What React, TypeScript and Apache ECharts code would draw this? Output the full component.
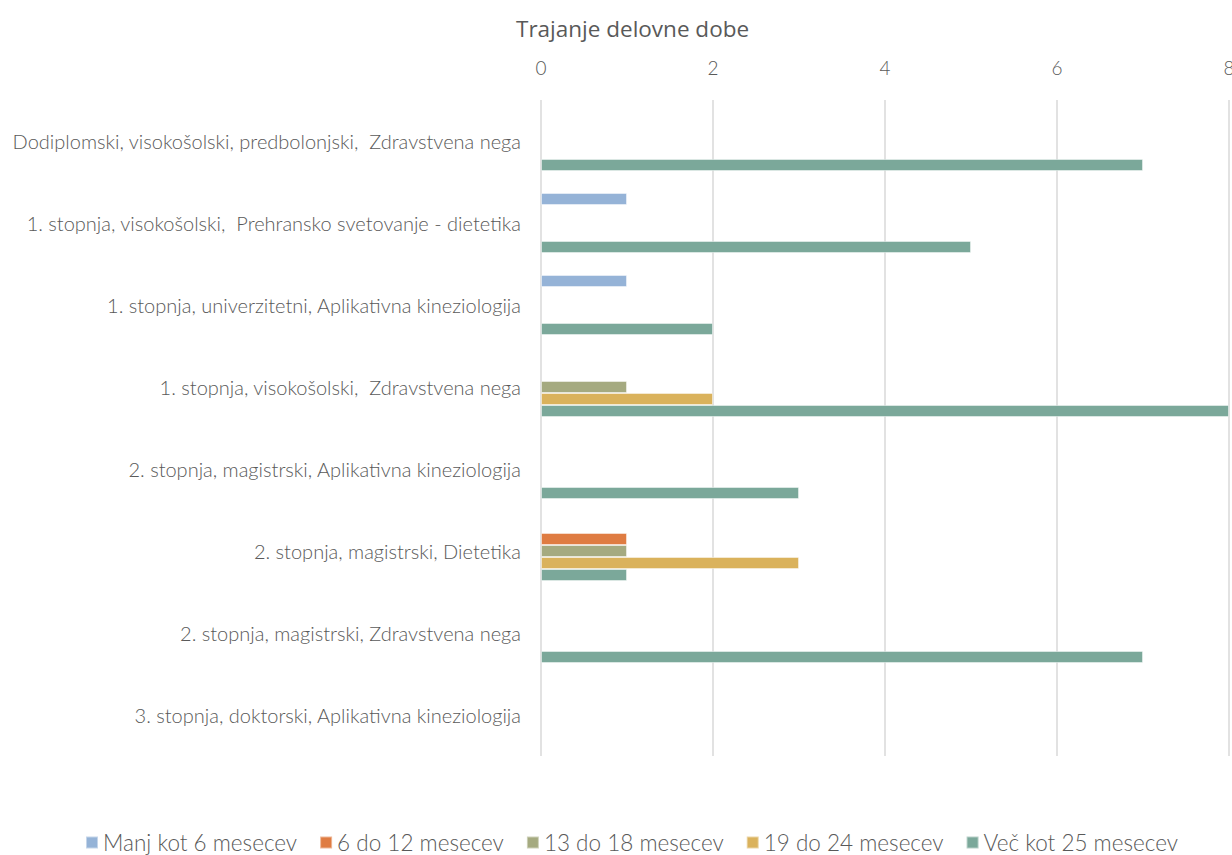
import React, { useEffect, useRef } from "react";
import * as echarts from "echarts";

const categories = [
  "Dodiplomski, visokošolski, predbolonjski,  Zdravstvena nega",
  "1. stopnja, visokošolski,  Prehransko svetovanje - dietetika",
  "1. stopnja, univerzitetni, Aplikativna kineziologija",
  "1. stopnja, visokošolski,  Zdravstvena nega",
  "2. stopnja, magistrski, Aplikativna kineziologija",
  "2. stopnja, magistrski, Dietetika",
  "2. stopnja, magistrski, Zdravstvena nega",
  "3. stopnja, doktorski, Aplikativna kineziologija",
];

const seriesNames = [
  "Manj kot 6 mesecev",
  "6 do 12 mesecev",
  "13 do 18 mesecev",
  "19 do 24 mesecev",
  "Več kot 25 mesecev",
];

const manj6 = [null, 1, 1, null, null, null, null, null];
const m6do12 = [null, null, null, null, null, 1, null, null];
const m13do18 = [null, null, null, 1, null, 1, null, null];
const m19do24 = [null, null, null, 2, null, 3, null, null];
const vec25 = [7, 5, 2, 8, 3, 1, 7, null];

const seriesData = [manj6, m6do12, m13do18, m19do24, vec25];
const colors = ["#95B3D7", "#DF7C42", "#A5AA80", "#DAB25C", "#7BA89A"];

const xTicks = { min: 0, max: 8, interval: 2 };

const FONT = "Lato, 'Open Sans', sans-serif";
const TEXT = "#595959";

export default function App() {
  const ref = useRef<HTMLDivElement>(null);
  useEffect(() => {
    if (!ref.current) return;
    const chart = echarts.init(ref.current, undefined, { renderer: "svg" });
    chart.setOption({
      animation: false,
      backgroundColor: "#ffffff",
      textStyle: { fontFamily: FONT },
      title: {
        text: "Trajanje delovne dobe",
        left: 511,
        top: 12,
        textStyle: { fontFamily: "'Open Sans', sans-serif", fontSize: 22.5, fontWeight: "normal", color: TEXT },
      },
      legend: {
        bottom: -4,
        left: 80,
        itemWidth: 12,
        itemHeight: 12,
        itemGap: 22,
        icon: "rect",
        textStyle: { fontFamily: FONT, fontWeight: 300, fontSize: 22.5, color: TEXT },
        data: seriesNames,
      },
      grid: { left: 541, right: 3, top: 100, bottom: 99, containLabel: false, outerBoundsMode: "none" },
      xAxis: {
        type: "value",
        position: "top",
        min: xTicks.min,
        max: xTicks.max,
        interval: xTicks.interval,
        axisLine: { show: false },
        axisTick: { show: false },
        axisLabel: { color: TEXT, fontSize: 19, fontWeight: 300, fontFamily: FONT, margin: 23 },
        splitLine: { show: true, lineStyle: { color: "#D9D9D9", width: 1.5 } },
      },
      yAxis: {
        type: "category",
        inverse: true,
        data: categories,
        axisLine: { show: false },
        axisTick: { show: false },
        axisLabel: { color: TEXT, fontSize: 20, fontWeight: 300, fontFamily: FONT, margin: 20 },
      },
      series: seriesNames.map((name, i) => ({
        name,
        type: "bar",
        data: seriesData[i],
        barWidth: 12,
        barGap: "0%",
        itemStyle: {
          color: colors[i],
          borderColor: "rgba(255,255,255,0.45)",
          borderWidth: 1,
        },
      })),
      color: colors,
    });
    return () => chart.dispose();
  }, []);
  return (
    <div
      ref={ref}
      style={{ position: "absolute", left: 0, top: 0, width: 1232, height: 855 }}
    />
  );
}
